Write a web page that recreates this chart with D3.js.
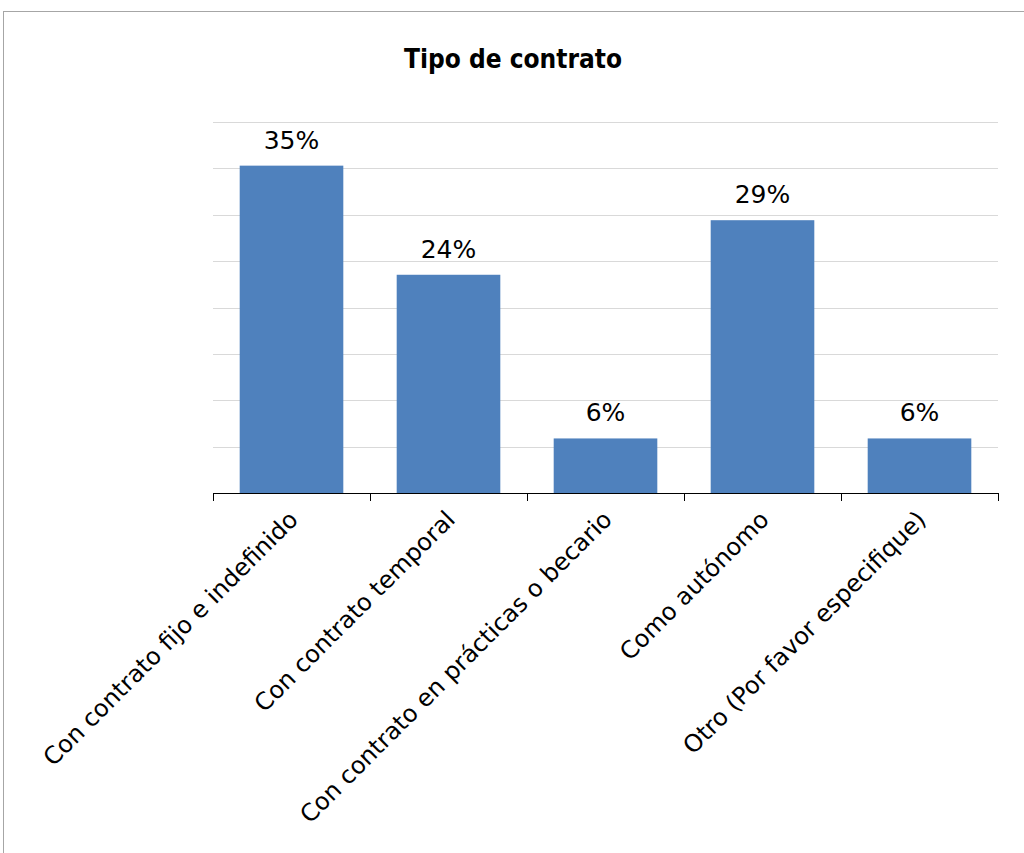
<!DOCTYPE html>
<html>
<head>
<meta charset="utf-8">
<script src="https://cdn.jsdelivr.net/npm/d3@7"></script>
<style>
  body { margin: 0; background: #fff; }
  text { font-family: "DejaVu Sans", Verdana, sans-serif; }
</style>
</head>
<body>
<svg id="chart" width="1024" height="853" viewBox="0 0 1024 853"></svg>
<script>
// counts out of 17 respondents, shown as shares
const categories = [
    "Con contrato fijo e indefinido",
    "Con contrato temporal",
    "Con contrato en prácticas o becario",
    "Como autónomo",
    "Otro (Por favor especifique)"
];
const values = [6 / 17, 4 / 17, 1 / 17, 5 / 17, 1 / 17];
const gridTicks = [0, 0.05, 0.10, 0.15, 0.20, 0.25, 0.30, 0.35, 0.40];

const svg = d3.select("#chart");
const margin = { left: 213, right: 26, top: 122, bottom: 360 };
const width = 1024 - margin.left - margin.right;
const height = 853 - margin.top - margin.bottom;

// outer frame
svg.append("rect")
    .attr("x", 3.5).attr("y", 11.5)
    .attr("width", 1030).attr("height", 860)
    .attr("fill", "none")
    .attr("stroke", "#a6a6a6");

svg.append("text")
    .attr("x", 513).attr("y", 68)
    .attr("text-anchor", "middle")
    .attr("font-size", 26)
    .attr("font-weight", "bold")
    .style("font-family", "'DejaVu Sans Condensed', 'DejaVu Sans', sans-serif")
    .text("Tipo de contrato");

const g = svg.append("g").attr("transform", `translate(${margin.left},${margin.top})`);

const x = d3.scaleBand().domain(categories).range([0, width]).paddingInner(0.34).paddingOuter(0.17);
const y = d3.scaleLinear().domain([0, 0.40]).range([height, 0]);

// gridlines
g.append("g")
    .selectAll("line")
    .data(gridTicks.slice(1))
    .enter()
    .append("line")
    .attr("x1", 0).attr("x2", width)
    .attr("y1", d => Math.round(y(d)) + 0.5)
    .attr("y2", d => Math.round(y(d)) + 0.5)
    .attr("stroke", "#d9d9d9");

// bars
g.selectAll(".bar")
    .data(values)
    .enter()
    .append("rect")
    .attr("class", "bar")
    .attr("x", (d, i) => x(categories[i]))
    .attr("width", x.bandwidth())
    .attr("y", d => y(d))
    .attr("height", d => height - y(d))
    .attr("fill", "#4f81bd");

// value labels
g.selectAll(".lbl")
    .data(values)
    .enter()
    .append("text")
    .attr("class", "lbl")
    .attr("x", (d, i) => x(categories[i]) + x.bandwidth() / 2)
    .attr("y", d => y(d) - 17)
    .attr("text-anchor", "middle")
    .attr("font-size", 25)
    .text(d => d3.format(".0%")(d));

// x axis with ticks at band boundaries
const step = x.step();
const axis = g.append("g").attr("transform", `translate(0,${height})`);
axis.append("line")
    .attr("x1", 0).attr("x2", width)
    .attr("y1", 0.5).attr("y2", 0.5)
    .attr("stroke", "#000");
axis.selectAll(".tk")
    .data(d3.range(categories.length + 1))
    .enter()
    .append("line")
    .attr("x1", i => Math.round(i * step) + 0.5)
    .attr("x2", i => Math.round(i * step) + 0.5)
    .attr("y1", 0).attr("y2", 8)
    .attr("stroke", "#000");

axis.selectAll(".cat")
    .data(categories)
    .enter()
    .append("text")
    .attr("class", "cat")
    .attr("text-anchor", "end")
    .attr("font-size", 24)
    .attr("transform", d => `translate(${x(d) + x.bandwidth() / 2 + 8},${28}) rotate(-45)`)
    .text(d => d);
</script>
</body>
</html>
